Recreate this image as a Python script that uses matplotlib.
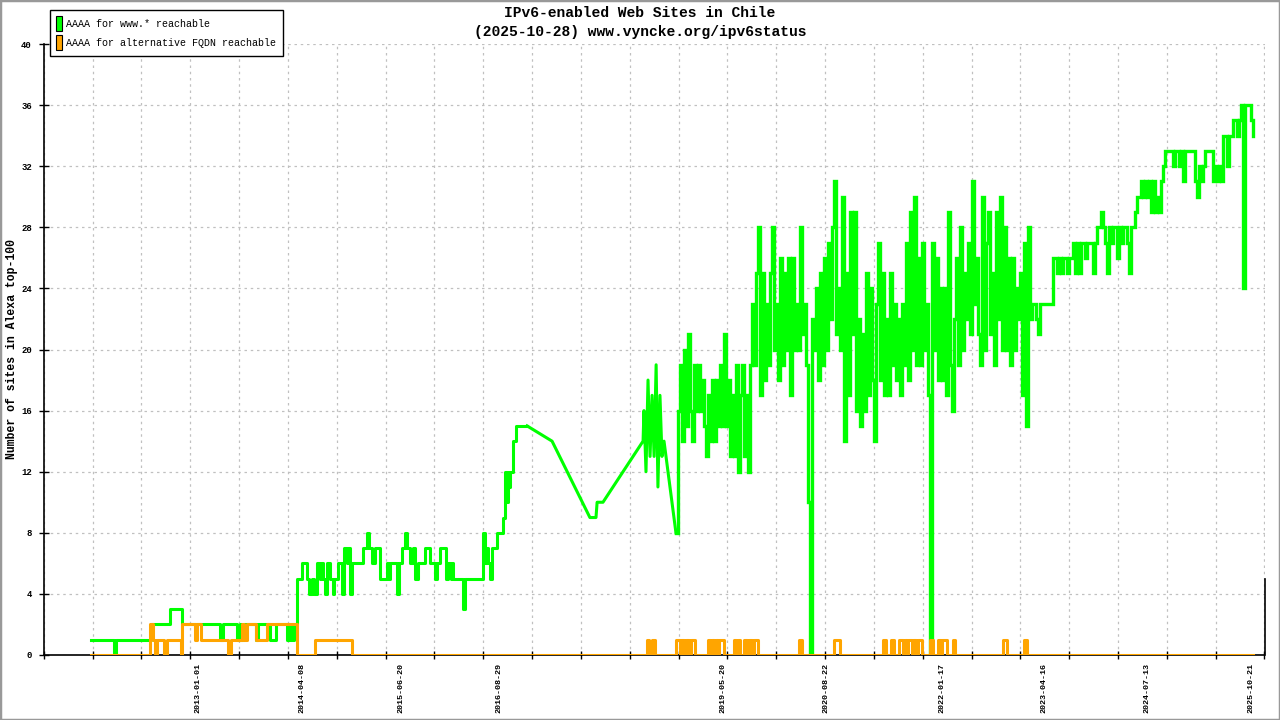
import numpy as np
import pandas as pd
import matplotlib.pyplot as plt
from matplotlib.patches import Patch, Rectangle

plt.rcParams['font.family'] = ['Liberation Mono', 'DejaVu Sans Mono']

# all day numbers are days after this date
base = pd.Timestamp('2013-01-01')
last_day = 4683  # 2025-10-28

# AAAA for www.* - early period, (day, sites) held until the next entry
www_steps = [(-475, 1), (-373, 0), (-364, 1), (-209, 2), (-124, 3), (-71, 2), (98, 1), (111, 2),
             (173, 1), (186, 2), (193, 1), (204, 2), (258, 1), (266, 2), (320, 1), (346, 2),
             (395, 1), (404, 2), (408, 1), (417, 2), (422, 1), (428, 2), (440, 5), (460, 6),
             (483, 5), (494, 4), (506, 5), (515, 4), (527, 6), (542, 5), (546, 6), (554, 5),
             (564, 4), (571, 6), (586, 5), (599, 4), (604, 5), (623, 6), (638, 4), (648, 7),
             (662, 6), (666, 7), (675, 4), (685, 6), (734, 7), (749, 8), (759, 7), (771, 6),
             (786, 7), (808, 5), (838, 6), (845, 5), (852, 6), (885, 4), (892, 6), (904, 7),
             (919, 8), (929, 7), (941, 6), (953, 7), (963, 5), (978, 6), (1008, 7), (1030, 6),
             (1052, 5), (1062, 6), (1074, 7), (1101, 5), (1111, 6), (1122, 5), (1128, 6), (1134, 5),
             (1175, 3), (1187, 5), (1267, 8), (1274, 6), (1282, 7), (1288, 6), (1296, 5), (1304, 7),
             (1326, 8), (1356, 9), (1363, 12), (1371, 10), (1376, 12), (1381, 11), (1385, 12),
             (1400, 14), (1412, 15), (1461, 15)]

# AAAA for www.* - sparse measurements 2017-2018 (straight joins)
www_sparse = [(1461, 15), (1572, 14), (1740, 9), (1767, 9), (1772, 10), (1798, 10), (1976, 14),
              (1980, 16), (1989, 12), (1998, 18), (2007, 13), (2016, 17), (2025, 13), (2034, 19),
              (2042, 11), (2051, 17), (2060, 13), (2069, 14), (2122, 8)]

# AAAA for www.* - dense measurements, evenly spread 2018-11-02 .. 2025-10-28
www_dense = [
    16, 19, 14, 20, 15, 21, 16, 14, 19, 16,
    19, 16, 18, 15, 13, 17, 14, 18, 14, 18,
    15, 19, 15, 21, 15, 18, 13, 17, 13, 19,
    12, 17, 19, 13, 17, 12, 19, 23, 19, 25,
    28, 17, 25, 18, 23, 19, 25, 28, 20, 23,
    18, 26, 19, 25, 20, 26, 17, 26, 20, 23,
    20, 28, 21, 23, 19, 10, 0, 22, 20, 24,
    18, 25, 19, 26, 20, 27, 22, 28, 31, 21,
    24, 20, 30, 14, 25, 17, 29, 21, 29, 16,
    22, 15, 21, 16, 25, 17, 24, 18, 14, 23,
    27, 18, 25, 17, 22, 17, 25, 19, 23, 18,
    22, 17, 23, 19, 27, 18, 29, 20, 30, 19,
    26, 19, 27, 20, 23, 17, 0, 27, 20, 26,
    18, 24, 18, 24, 17, 29, 19, 16, 22, 26,
    19, 28, 20, 25, 22, 27, 21, 31, 23, 26,
    21, 19, 30, 20, 27, 29, 21, 25, 19, 29,
    22, 30, 20, 28, 20, 26, 19, 26, 20, 24,
    22, 25, 17, 27, 15, 28, 22, 23, 23, 22,
    21, 23, 23, 23, 23, 23, 23, 26, 26, 25,
    26, 25, 26, 26, 25, 26, 26, 27, 25, 27,
    25, 27, 27, 26, 27, 27, 27, 25, 27, 28,
    28, 29, 28, 27, 25, 28, 27, 28, 28, 26,
    28, 27, 28, 28, 27, 25, 28, 28, 29, 30,
    30, 31, 30, 31, 30, 31, 29, 31, 29, 30,
    29, 31, 32, 33, 33, 33, 33, 32, 33, 33,
    32, 33, 31, 33, 33, 33, 33, 33, 31, 30,
    32, 31, 32, 33, 33, 33, 33, 31, 32, 31,
    32, 31, 34, 34, 32, 34, 34, 35, 35, 34,
    35, 36, 24, 36, 36, 36, 35, 34]
www_dense_start, www_dense_end = '2018-11-02', '2025-10-28'

# AAAA for alternative FQDN, (day, sites) held until the next entry
alt_steps = [(-475, 0), (-213, 2), (-200, 1), (-193, 0), (-182, 1), (-149, 0), (-138, 1), (-75, 0),
             (-69, 2), (-13, 1), (-6, 2), (12, 1), (135, 0), (145, 1), (194, 2), (204, 1),
             (216, 2), (258, 1), (305, 2), (441, 0), (519, 1), (682, 0),
             (1994, 1), (2002, 0), (2016, 1), (2031, 0), (2122, 1), (2140, 0), (2145, 1), (2158, 0),
             (2167, 1), (2182, 0), (2189, 1), (2207, 0), (2264, 1), (2273, 0), (2282, 1), (2291, 0),
             (2300, 1), (2309, 0), (2315, 1), (2334, 0), (2380, 1), (2390, 0), (2398, 1), (2406, 0),
             (2424, 1), (2438, 0), (2446, 1), (2460, 0), (2469, 1), (2486, 0), (2668, 1), (2682, 0),
             (2824, 1), (2850, 0), (3041, 1), (3055, 0), (3076, 1), (3090, 0), (3112, 1), (3130, 0),
             (3139, 1), (3148, 0), (3152, 1), (3169, 0), (3175, 1), (3188, 0), (3197, 1), (3215, 0),
             (3250, 1), (3263, 0), (3286, 1), (3299, 0), (3303, 1), (3324, 0), (3352, 1), (3361, 0),
             (3574, 1), (3590, 0), (3667, 1), (3681, 0), (last_day, 0)]

tick_labels = ['2013-01-01', '2014-04-08', '2015-06-20', '2016-08-29', '2019-05-20',
               '2020-08-22', '2022-01-17', '2023-04-16', '2024-07-13', '2025-10-21']

GREEN = '#00ff00'
ORANGE = '#ffa500'


def to_dates(days):
    return base + pd.to_timedelta(np.asarray(days), unit='D')


fig = plt.figure(figsize=(12.8, 7.2), dpi=100)
ax = fig.add_axes([43.7 / 1280, 65 / 720, 1220.8 / 1280, 611 / 720])

# green
d, v = zip(*www_steps)
ax.plot(to_dates(d), v, drawstyle='steps-post', color=GREEN, lw=2.2, zorder=3)
d, v = zip(*www_sparse)
ax.plot(to_dates(d), v, color=GREEN, lw=2.2, zorder=3)
dense_x = [to_dates([d[-1]])[0]] + list(pd.date_range(www_dense_start, www_dense_end,
                                                      periods=len(www_dense)))
dense_y = [v[-1]] + www_dense
ax.plot(dense_x, dense_y, drawstyle='steps-post', color=GREEN, lw=2.4, zorder=3,
        solid_joinstyle='miter')

# orange
d, v = zip(*alt_steps)
ax.plot(to_dates(d), v, drawstyle='steps-post', color=ORANGE, lw=2.2, zorder=4)

# axes
x0, x1 = base + pd.Timedelta(days=-685), base + pd.Timedelta(days=4735)
ax.set_xlim(x0, x1)
ax.set_ylim(0, 40)
ax.set_yticks(range(0, 41, 4))
ax.set_xticks(pd.to_datetime(tick_labels))
ax.set_xticklabels(tick_labels, rotation=90, fontsize=6, va='top')
ax.set_xticks(pd.date_range(x0, x1, periods=26), minor=True)
ax.tick_params(axis='x', which='major', length=0, pad=6)
ax.tick_params(axis='x', which='minor', direction='inout', length=6, width=1)
ax.tick_params(axis='y', direction='inout', length=7, width=1, pad=5, labelsize=6.5)
for t in ax.get_yticklabels():
    t.set_fontweight('bold')
for t in ax.get_xticklabels():
    t.set_fontweight('bold')

ax.grid(True, axis='y', which='major', color='#c0c0c0', ls=(0, (2, 3)), lw=0.9)
ax.grid(True, axis='x', which='minor', color='#c0c0c0', ls=(0, (2, 3)), lw=0.9)
ax.grid(False, axis='x', which='major')

ax.spines['top'].set_visible(False)
ax.spines['right'].set_bounds(0, 5)
for s in ('left', 'bottom', 'right'):
    ax.spines[s].set_linewidth(1.2)

# titles
fig.text(0.5, 1 - 13 / 720, 'IPv6-enabled Web Sites in Chile', ha='center', va='center',
         fontsize=10.5, fontweight='bold')
fig.text(0.5, 1 - 32 / 720, '(2025-10-28) www.vyncke.org/ipv6status', ha='center', va='center',
         fontsize=10.5, fontweight='bold')
fig.text(12 / 1280, 1 - 349.5 / 720, 'Number of sites in Alexa top-100', rotation=90,
         ha='center', va='center', fontsize=8.3, fontweight='bold')

# legend
handles = [Patch(facecolor=GREEN, edgecolor='black', lw=0.8),
           Patch(facecolor=ORANGE, edgecolor='black', lw=0.8)]
leg = fig.legend(handles, ['AAAA for www.* reachable', 'AAAA for alternative FQDN reachable'],
                 loc='upper left', bbox_to_anchor=(50 / 1280, 1 - 10 / 720),
                 bbox_transform=fig.transFigure, fontsize=7.2, fancybox=False,
                 edgecolor='black', framealpha=1, borderpad=0.6, borderaxespad=0,
                 handlelength=0.6, handleheight=2.0, handletextpad=0.45, labelspacing=0.35)
leg.get_frame().set_linewidth(1)

# outer frame
fig.patches.append(Rectangle((0, 0), 1, 1, transform=fig.transFigure, fill=False,
                             edgecolor='#999999', lw=2.5))

fig.savefig('out.png', dpi=100)
